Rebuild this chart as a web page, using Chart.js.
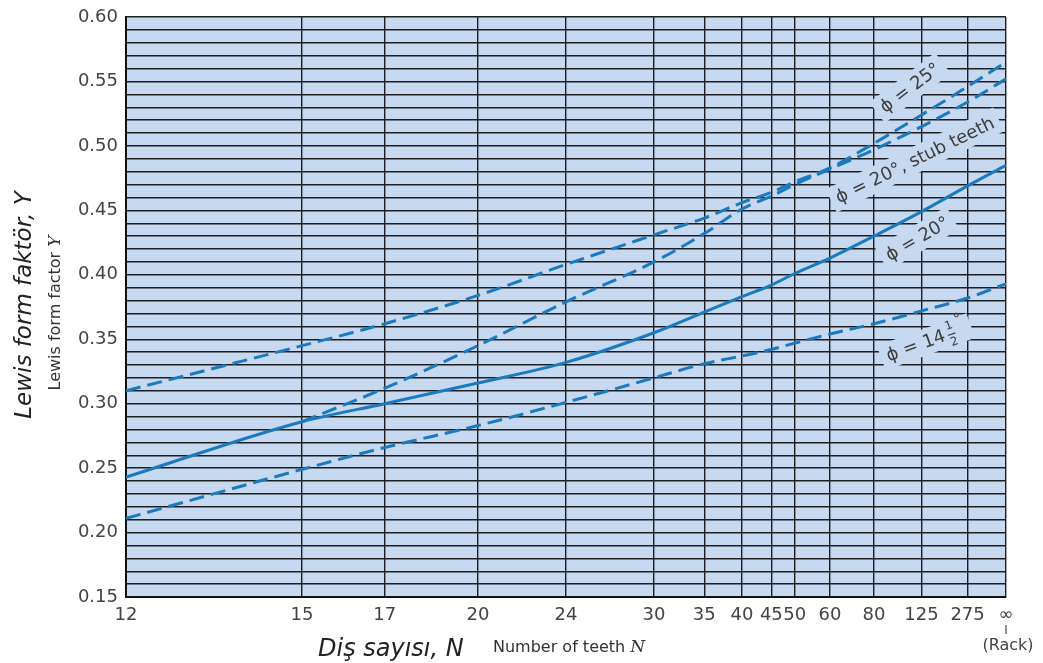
<!DOCTYPE html>
<html>
<head>
<meta charset="utf-8">
<script src="https://cdn.jsdelivr.net/npm/chart.js@4.4.0/dist/chart.umd.min.js"></script>
<style>
  html, body { margin: 0; padding: 0; background: #fff; }
  #wrap { width: 1043px; height: 663px; }
</style>
</head>
<body>
<div id="wrap"><canvas id="lewisChart"></canvas></div>
<script>
// number of teeth and tick labels (x axis is a 1/N scale, rack = infinity)
const teeth = [12, 15, 17, 20, 24, 30, 35, 40, 45, 50, 60, 80, 125, 275, Infinity];
const teethLabels = ['12', '15', '17', '20', '24', '30', '35', '40', '45', '50', '60', '80', '125', '275', '∞'];

// Lewis form factor Y
const phi25    = [0.310, 0.345, 0.362, 0.384, 0.408, 0.431, 0.444, 0.456, 0.464, 0.472, 0.483, 0.502, 0.524, 0.546, 0.565];
const phi20stub = [null, 0.286, 0.312, 0.345, 0.379, 0.410, 0.432, 0.451, 0.461, 0.470, 0.482, 0.497, 0.515, 0.534, 0.552];
const phi20    = [0.243, 0.286, 0.300, 0.316, 0.332, 0.355, 0.371, 0.383, 0.392, 0.401, 0.413, 0.430, 0.449, 0.469, 0.485];
const phi14    = [0.211, 0.249, 0.266, 0.283, 0.301, 0.320, 0.331, 0.337, 0.342, 0.347, 0.354, 0.362, 0.372, 0.382, 0.393];

const yMin = 0.15, yMax = 0.60;

const plotBg = '#c6d9f0';
const lineBlue = '#1b79bd';
const textGray = '#3d3d3d';
const FONT = '"DejaVu Sans", "Liberation Sans", sans-serif';

// 12 teeth at the left edge, rack at the right edge
function pos(n) {
    return 1 - 12 / n;
}

function series(values) {
    const pts = [];
    values.forEach(function(v, i) {
        if (v !== null) pts.push({ x: pos(teeth[i]), y: v });
    });
    return pts;
}

// curve labels, placed in data coordinates
const curveLabels = [
    { text: 'ϕ = 25°', n: 110, y: 0.545, angle: -37 },
    { text: 'ϕ = 20°, stub teeth', n: 116, y: 0.489, angle: -26 },
    { text: 'ϕ = 20°', n: 119, y: 0.428, angle: -30 },
    { text: 'ϕ = 14', n: 132, y: 0.348, angle: -20, half: true }
];

const bgPlugin = {
    id: 'plotBg',
    beforeDraw(chart) {
        const a = chart.chartArea;
        const ctx = chart.ctx;
        ctx.save();
        ctx.fillStyle = plotBg;
        ctx.fillRect(a.left, a.top, a.right - a.left, a.bottom - a.top);
        ctx.restore();
    }
};

const labelPlugin = {
    id: 'curveLabels',
    beforeDatasetsDraw(chart) {
        const ctx = chart.ctx;
        const xs = chart.scales.x, ys = chart.scales.y;
        curveLabels.forEach(function(lab) {
            const x = xs.getPixelForValue(pos(lab.n));
            const y = ys.getPixelForValue(lab.y);
            ctx.save();
            ctx.translate(x, y);
            ctx.rotate(lab.angle * Math.PI / 180);
            ctx.font = '18px ' + FONT;
            const mw = ctx.measureText(lab.text).width;
            const w = mw + (lab.half ? 22 : 0);
            ctx.fillStyle = plotBg;
            ctx.fillRect(-w / 2 - 6, -13, w + 12, 26);
            ctx.fillStyle = textGray;
            ctx.textBaseline = 'middle';
            ctx.textAlign = 'left';
            ctx.fillText(lab.text, -w / 2, 1);
            if (lab.half) {
                const fx = -w / 2 + mw + 3;
                ctx.font = '12px ' + FONT;
                ctx.textAlign = 'center';
                ctx.fillText('1', fx + 4, -7);
                ctx.fillText('2', fx + 4, 10);
                ctx.fillRect(fx, 1, 8, 1.2);
                ctx.font = '15px ' + FONT;
                ctx.fillText('°', fx + 15, -10);
            }
            ctx.restore();
        });
    }
};

const titlePlugin = {
    id: 'axisTitles',
    afterDraw(chart) {
        const ctx = chart.ctx;
        ctx.save();
        ctx.fillStyle = '#222';
        ctx.textBaseline = 'alphabetic';

        // y titles
        ctx.save();
        ctx.translate(31, 305);
        ctx.rotate(-Math.PI / 2);
        ctx.textAlign = 'center';
        ctx.font = 'italic 23px ' + FONT;
        ctx.fillText('Lewis form faktör, Y', 0, 0);
        ctx.restore();

        ctx.save();
        ctx.translate(60, 313);
        ctx.rotate(-Math.PI / 2);
        ctx.fillStyle = '#333';
        const s1 = 'Lewis form factor ';
        ctx.font = '16px ' + FONT;
        const w1 = ctx.measureText(s1).width;
        ctx.font = 'italic 17px "DejaVu Serif", "Liberation Serif", serif';
        const w2 = ctx.measureText('Y').width;
        const start = -(w1 + w2) / 2;
        ctx.textAlign = 'left';
        ctx.font = '16px ' + FONT;
        ctx.fillText(s1, start, 0);
        ctx.font = 'italic 17px "DejaVu Serif", "Liberation Serif", serif';
        ctx.fillText('Y', start + w1, 0);
        ctx.restore();

        // x titles
        ctx.textAlign = 'left';
        ctx.font = 'italic 24px ' + FONT;
        ctx.fillText('Diş sayısı, N', 318, 656);
        ctx.fillStyle = '#333';
        ctx.font = '16px ' + FONT;
        const s2 = 'Number of teeth ';
        ctx.fillText(s2, 493, 652);
        const w3 = ctx.measureText(s2).width;
        ctx.font = 'italic 17px "DejaVu Serif", "Liberation Serif", serif';
        ctx.fillText('N', 493 + w3, 652);

        // rack note under the infinity tick
        const xr = chart.scales.x.getPixelForValue(pos(Infinity));
        ctx.fillStyle = '#444';
        ctx.fillRect(xr - 0.6, 625, 1.2, 9);
        ctx.textAlign = 'center';
        ctx.font = '16px ' + FONT;
        ctx.fillText('(Rack)', xr + 2, 650);
        ctx.restore();
    }
};

function lineSet(label, values, dash) {
    return {
        label: label,
        data: series(values),
        borderColor: lineBlue,
        borderWidth: 3,
        borderDash: dash,
        pointRadius: 0,
        fill: false,
        cubicInterpolationMode: 'monotone'
    };
}

const ctx = document.getElementById('lewisChart').getContext('2d');
const lewisChart = new Chart(ctx, {
    type: 'line',
    data: {
        datasets: [
            lineSet('ϕ = 25°', phi25, [15, 7]),
            lineSet('ϕ = 20°, stub teeth', phi20stub, [15, 7]),
            lineSet('ϕ = 20°', phi20, []),
            lineSet('ϕ = 14½°', phi14, [15, 7])
        ]
    },
    options: {
        responsive: true,
        maintainAspectRatio: false,
        animation: false,
        layout: { padding: { left: 0, right: 37, top: 6, bottom: 0 } },
        plugins: {
            legend: { display: false },
            tooltip: { enabled: false }
        },
        scales: {
            x: {
                type: 'linear',
                min: 0,
                max: 1,
                afterBuildTicks: function(scale) {
                    scale.ticks = teeth.map(function(n) { return { value: pos(n) }; });
                },
                afterFit: function(scale) { scale.height = 66; },
                ticks: {
                    autoSkip: false,
                    maxRotation: 0,
                    padding: 8,
                    color: '#444',
                    font: { family: FONT, size: 18 },
                    callback: function(value, index) { return teethLabels[index]; }
                },
                grid: { color: '#1e1e1e', lineWidth: 1.4, drawTicks: false },
                border: { display: true, color: '#111', width: 2 }
            },
            y: {
                min: yMin,
                max: yMax,
                afterFit: function(scale) { scale.width = 126; },
                ticks: {
                    stepSize: 0.01,
                    autoSkip: false,
                    padding: 8,
                    color: '#444',
                    font: { family: FONT, size: 18, lineHeight: 1 },
                    callback: function(value) {
                        const c = Math.round(value * 100);
                        return c % 5 === 0 ? (c / 100).toFixed(2) : '';
                    }
                },
                grid: { color: '#1e1e1e', lineWidth: 1.4, drawTicks: false },
                border: { display: true, color: '#111', width: 2 }
            }
        }
    },
    plugins: [bgPlugin, labelPlugin, titlePlugin]
});
</script>
</body>
</html>
